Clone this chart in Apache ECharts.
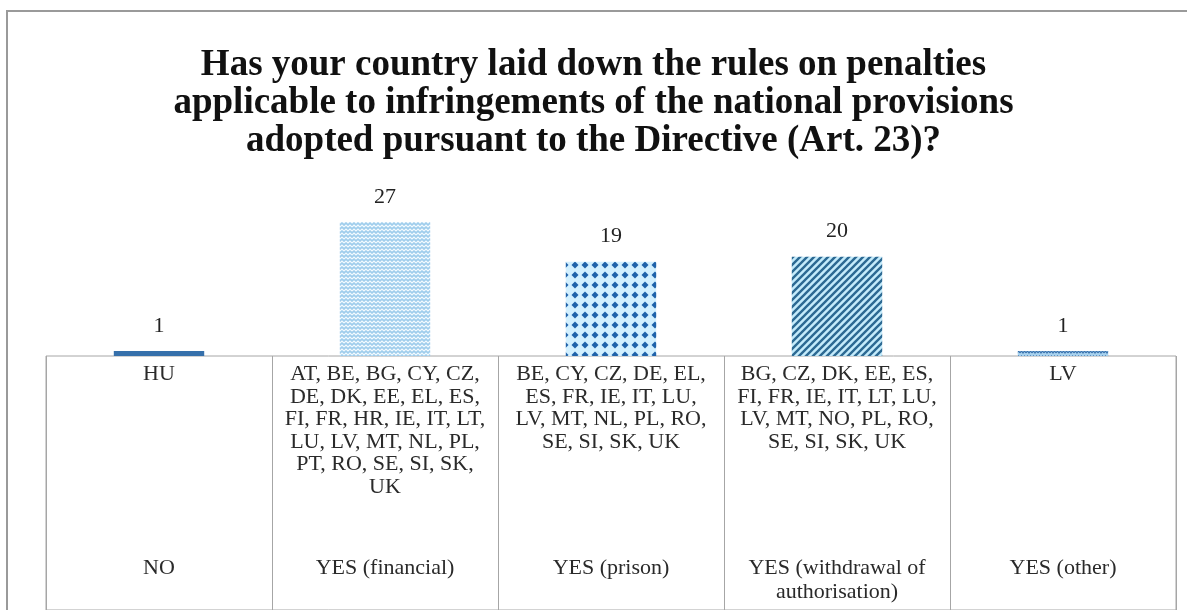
<!DOCTYPE html>
<html>
<head>
<meta charset="utf-8">
<script src="https://cdn.jsdelivr.net/npm/echarts@6/dist/echarts.min.js"></script>
<style>
  html, body { margin: 0; padding: 0; background: #fff; }
  #main { width: 1187px; height: 610px; }
</style>
</head>
<body>
<div id="main"></div>
<script>
// answers and how many member states gave them
var categories = ['NO', 'YES (financial)', 'YES (prison)', 'YES (withdrawal of\nauthorisation)', 'YES (other)'];
var counts = [1, 27, 19, 20, 1];
var countries = [
  'HU',
  'AT, BE, BG, CY, CZ,\nDE, DK, EE, EL, ES,\nFI, FR, HR, IE, IT, LT,\nLU, LV, MT, NL, PL,\nPT, RO, SE, SI, SK,\nUK',
  'BE, CY, CZ, DE, EL,\nES, FR, IE, IT, LU,\nLV, MT, NL, PL, RO,\nSE, SI, SK, UK',
  'BG, CZ, DK, EE, ES,\nFI, FR, IE, IT, LT, LU,\nLV, MT, NO, PL, RO,\nSE, SI, SK, UK',
  'LV'
];
var titleText = 'Has your country laid down the rules on penalties\napplicable to infringements of the national provisions\nadopted pursuant to the Directive (Art. 23)?';

var serif = '"Liberation Serif", "DejaVu Serif", serif';

// small canvas tiles for the hatched bar fills
function tile(w, h, bg, draw) {
  var c = document.createElement('canvas');
  c.width = w; c.height = h;
  var ctx = c.getContext('2d');
  ctx.fillStyle = bg;
  ctx.fillRect(0, 0, w, h);
  draw(ctx);
  return { image: c, repeat: 'repeat' };
}

var weave = tile(8, 8, '#9fcdec', function(ctx) {
  ctx.strokeStyle = '#f4fbff';
  ctx.lineWidth = 1.2;
  ctx.beginPath();
  ctx.moveTo(0, 3); ctx.lineTo(2, 1); ctx.lineTo(4, 3); ctx.lineTo(6, 1); ctx.lineTo(8, 3);
  ctx.moveTo(-2, 5); ctx.lineTo(0, 7); ctx.lineTo(2, 5); ctx.lineTo(4, 7); ctx.lineTo(6, 5); ctx.lineTo(8, 7);
  ctx.stroke();
});

var dots = tile(10, 10, '#d2f0ff', function(ctx) {
  ctx.fillStyle = '#1f62aa';
  ctx.beginPath();
  ctx.moveTo(5, 1.5); ctx.lineTo(8.5, 5); ctx.lineTo(5, 8.5); ctx.lineTo(1.5, 5);
  ctx.closePath();
  ctx.fill();
});

var stripes = tile(7, 7, '#c4ebfb', function(ctx) {
  ctx.strokeStyle = '#2c6993';
  ctx.lineWidth = 2.4;
  ctx.beginPath();
  ctx.moveTo(-1, 8); ctx.lineTo(8, -1);
  ctx.moveTo(-4.5, 4.5); ctx.lineTo(4.5, -4.5);
  ctx.moveTo(2.5, 11.5); ctx.lineTo(11.5, 2.5);
  ctx.stroke();
});

var wave = tile(6, 5, '#a8d2ee', function(ctx) {
  ctx.strokeStyle = '#3a72ad';
  ctx.lineWidth = 1.2;
  ctx.beginPath();
  ctx.moveTo(0, 3); ctx.lineTo(1.5, 1); ctx.lineTo(3, 3); ctx.lineTo(4.5, 1); ctx.lineTo(6, 3);
  ctx.stroke();
});

var fills = ['#3670ab', weave, dots, stripes, wave];

var maxLines = Math.max.apply(null, countries.map(function(s) { return s.split('\n').length; }));

function cellText(value, index) {
  var lines = countries[index].split('\n');
  while (lines.length < maxLines) lines.push(' ');
  var out = lines.map(function(l) { return '{c|' + l + '}'; });
  out.push('{g| }');
  categories[index].split('\n').forEach(function(l) { out.push('{n|' + l + '}'); });
  return out.join('\n');
}

var chart = echarts.init(document.getElementById('main'));

var option = {
  backgroundColor: '#ffffff',
  animation: false,
  title: {
    text: titleText,
    left: 'center',
    top: 41,
    textStyle: {
      fontFamily: serif,
      fontWeight: 'bold',
      fontSize: 37,
      lineHeight: 38,
      color: '#111'
    }
  },
  graphic: [{
    type: 'rect',
    shape: { x: 7, y: 11, width: 1200, height: 640 },
    style: { fill: 'none', stroke: '#9a9a9a', lineWidth: 2 },
    silent: true
  }],
  grid: [
    { left: 46, right: 11, top: 207, height: 149 },
    { left: 46, right: 11, top: 356, height: 320, show: true, borderColor: '#a6a6a6', borderWidth: 1 }
  ],
  xAxis: [
    {
      type: 'category',
      gridIndex: 0,
      data: categories,
      show: false
    },
    {
      type: 'category',
      gridIndex: 1,
      position: 'top',
      data: categories,
      axisLine: { show: true, lineStyle: { color: '#a6a6a6', width: 1 } },
      axisTick: { show: false },
      splitLine: { show: true, interval: 0, lineStyle: { color: '#a6a6a6', width: 1 } },
      axisLabel: {
        inside: true,
        interval: 0,
        margin: 7,
        formatter: cellText,
        fontFamily: serif,
        color: '#2a2a2a',
        rich: {
          c: { fontFamily: serif, fontSize: 22, lineHeight: 22.6, color: '#2a2a2a' },
          g: { fontFamily: serif, fontSize: 10, lineHeight: 58 },
          n: { fontFamily: serif, fontSize: 22, lineHeight: 24, color: '#2a2a2a' }
        }
      }
    }
  ],
  yAxis: [
    { type: 'value', gridIndex: 0, min: 0, max: 30, show: false },
    { type: 'value', gridIndex: 1, show: false }
  ],
  series: [{
    type: 'bar',
    xAxisIndex: 0,
    yAxisIndex: 0,
    barWidth: '40%',
    data: counts.map(function(v, i) {
      return { value: v, itemStyle: { color: fills[i] } };
    }),
    label: {
      show: true,
      position: 'top',
      distance: 14,
      fontFamily: serif,
      fontSize: 22,
      color: '#222'
    }
  }]
};

chart.setOption(option);
</script>
</body>
</html>
